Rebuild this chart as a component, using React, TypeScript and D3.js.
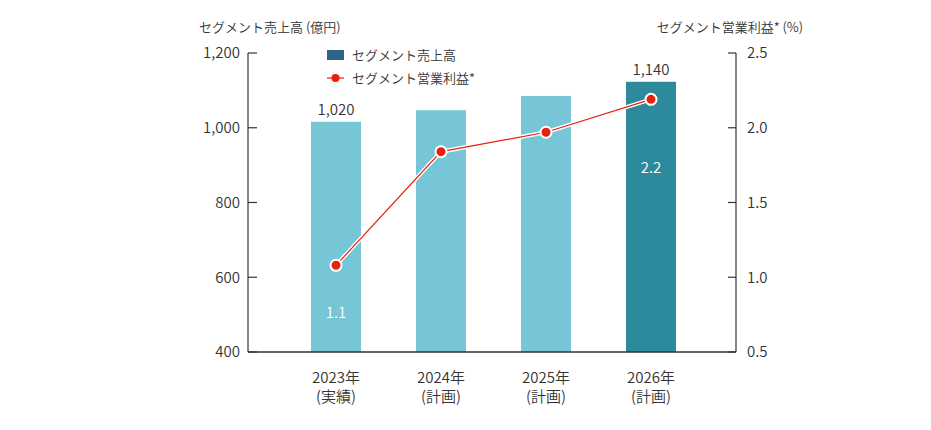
import React from "react";
import * as d3 from "d3";

const categories = ["2023年", "2024年", "2025年", "2026年"];
const subLabels = ["(実績)", "(計画)", "(計画)", "(計画)"];
const sales = [1016, 1047, 1085, 1123];
const salesLabels = ["1,020", "", "", "1,140"];
const margin = [1.08, 1.84, 1.97, 2.19];
const marginLabels = ["1.1", "", "", "2.2"];
const leftTicks = [400, 600, 800, 1000, 1200];
const rightTicks = [0.5, 1.0, 1.5, 2.0, 2.5];

const W = 931;
const H = 430;
const X0 = 248;
const X1 = 736;
const YTOP = 53;
const YBOT = 352;
const FONT = "'Noto Sans CJK JP', 'Noto Sans', sans-serif";
const TXT = "#333333";
const LIGHT = "#77C6D8";
const DARK = "#2C8A9C";
const LEGEND = "#2E6287";
const RED = "#E8200E";

export default function App() {
  const x = d3.scaleBand<string>().domain(categories).range([283.5, 703.5]).paddingInner(0.524).paddingOuter(0.262);
  const yL = d3.scaleLinear().domain([400, 1200]).range([YBOT, YTOP]);
  const yR = d3.scaleLinear().domain([0.5, 2.5]).range([YBOT, YTOP]);
  const cx = (c: string) => (x(c) as number) + x.bandwidth() / 2;
  const bw = 50;
  const line = d3
    .line<number>()
    .x((_, i) => cx(categories[i]))
    .y((d) => yR(d));
  const path = line(margin) || "";

  return (
    <svg width={W} height={H} style={{ position: "absolute", left: 0, top: 0, fontFamily: FONT, fontWeight: 350 }}>
      {/* axis titles */}
      <text x={199} y={32} fontSize={13} fill={TXT}>セグメント売上高 (億円)</text>
      <text x={803} y={32} fontSize={13} fill={TXT} textAnchor="end">セグメント営業利益* (%)</text>

      {/* bars */}
      {categories.map((c, i) => (
        <rect
          key={c}
          x={cx(c) - bw / 2}
          y={yL(sales[i])}
          width={bw}
          height={YBOT - yL(sales[i])}
          fill={i === categories.length - 1 ? DARK : LIGHT}
        />
      ))}

      {/* sales labels */}
      {categories.map((c, i) =>
        salesLabels[i] ? (
          <text key={c} x={cx(c)} y={yL(sales[i]) - 7} fontSize={15} fill={TXT} textAnchor="middle">
            {salesLabels[i]}
          </text>
        ) : null
      )}

      {/* left axis */}
      <line x1={X0} x2={X0} y1={YTOP} y2={YBOT} stroke={TXT} strokeWidth={1.2} />
      {leftTicks.map((t) => (
        <g key={t}>
          <line x1={X0} x2={X0 + 9} y1={yL(t)} y2={yL(t)} stroke={TXT} strokeWidth={1.2} />
          <text x={240} y={yL(t)} dy="0.35em" fontSize={15} fill={TXT} textAnchor="end">
            {d3.format(",")(t)}
          </text>
        </g>
      ))}

      {/* right axis */}
      <line x1={X1} x2={X1} y1={YTOP} y2={YBOT} stroke={TXT} strokeWidth={1.2} />
      {rightTicks.map((t) => (
        <g key={t}>
          <line x1={X1 - 8} x2={X1} y1={yR(t)} y2={yR(t)} stroke={TXT} strokeWidth={1.2} />
          <text x={747} y={yR(t)} dy="0.35em" fontSize={15} fill={TXT} textAnchor="start">
            {d3.format(".1f")(t)}
          </text>
        </g>
      ))}

      {/* bottom axis */}
      <line x1={X0} x2={X1} y1={YBOT} y2={YBOT} stroke={TXT} strokeWidth={1.5} />
      {categories.map((c, i) => (
        <g key={c}>
          <text x={cx(c)} y={383} fontSize={15} fill={TXT} textAnchor="middle">{c}</text>
          <text x={cx(c)} y={402} fontSize={15} fill={TXT} textAnchor="middle">{subLabels[i]}</text>
        </g>
      ))}

      {/* margin line */}
      <path d={path} fill="none" stroke="#ffffff" strokeWidth={4} />
      <path d={path} fill="none" stroke={RED} strokeWidth={1.2} />
      {margin.map((m, i) => (
        <circle key={i} cx={cx(categories[i])} cy={yR(m)} r={5.5} fill={RED} stroke="#ffffff" strokeWidth={2} />
      ))}

      {/* margin labels */}
      {categories.map((c, i) =>
        marginLabels[i] ? (
          <text
            key={c}
            x={cx(c)}
            y={i === 0 ? 318 : 173}
            fontSize={15}
            fill="#ffffff"
            textAnchor="middle"
          >
            {marginLabels[i]}
          </text>
        ) : null
      )}

      {/* legend */}
      <rect x={327} y={50} width={17} height={10} fill={LEGEND} />
      <text x={352} y={60} fontSize={13} fill={TXT}>セグメント売上高</text>
      <line x1={327} x2={344} y1={78} y2={78} stroke={RED} strokeWidth={1.2} />
      <circle cx={335.5} cy={78} r={4} fill={RED} />
      <text x={352} y={83} fontSize={13} fill={TXT}>セグメント営業利益*</text>
    </svg>
  );
}
